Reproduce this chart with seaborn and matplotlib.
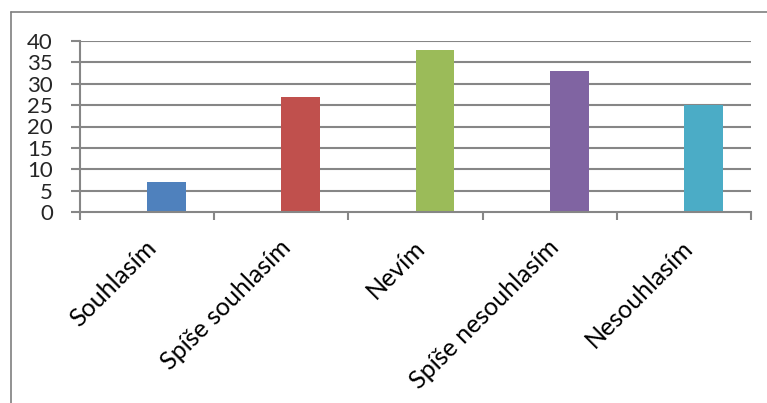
import matplotlib
matplotlib.use("Agg")
import matplotlib.pyplot as plt
import seaborn as sns
import pandas as pd
from matplotlib.lines import Line2D

categories = ["Souhlasím", "Spíše souhlasím", "Nevím", "Spíše nesouhlasím", "Nesouhlasím"]
values = [7, 27, 38, 33, 25]
empty_series = [0, 0, 0, 0, 0]  # Excel cluster has an empty first slot
colors = ["#4F81BD", "#C0504D", "#9BBB59", "#8064A2", "#4BACC6"]
y_ticks = [0, 5, 10, 15, 20, 25, 30, 35, 40]

sns.set_theme(style="white")
plt.rcParams['font.family'] = ['Lato', 'DejaVu Sans']

W, H = 767, 403
fig = plt.figure(figsize=(W / 100, H / 100), dpi=100)
ax = fig.add_axes([80 / W, 1 - 212 / H, (751 - 80) / W, (212 - 41) / H])

df = pd.DataFrame({
    "cat": categories * 2,
    "val": empty_series + values,
    "series": ["a"] * len(categories) + ["b"] * len(categories),
})
sns.barplot(data=df, x="cat", y="val", hue="series", hue_order=["a", "b"],
            palette=["white", "white"], width=0.58, dodge=True,
            legend=False, ax=ax, saturation=1, linewidth=0)
for patch, c in zip(ax.containers[1].patches, colors):
    patch.set_facecolor(c)
for patch in ax.containers[0].patches:
    patch.set_visible(False)

grid_c = "#868686"
ax.set_ylim(0, 40)
ax.set_xlim(-0.5, 4.5)
ax.set_yticks(y_ticks)
ax.set_yticklabels([str(v) for v in y_ticks], fontsize=16)
for v in y_ticks[1:]:
    ax.axhline(v, color=grid_c, lw=1.5, zorder=0)
ax.set_axisbelow(True)

ax.set_xticks([i - 0.5 for i in range(len(categories) + 1)])
ax.set_xticklabels([])
for i, c in enumerate(categories):
    ax.annotate(c, xy=(i, 0), xycoords="data", xytext=(-2, -17),
                textcoords="offset points", rotation=45, ha="right", va="top",
                rotation_mode="anchor", fontsize=18, color="black")

for s in ["top", "right"]:
    ax.spines[s].set_visible(False)
for s in ["left", "bottom"]:
    ax.spines[s].set_color(grid_c)
    ax.spines[s].set_linewidth(1.5)
ax.tick_params(axis="y", direction="out", length=6.5, width=1.5, color=grid_c, pad=13, left=True)
ax.tick_params(axis="x", direction="out", length=6, width=1.5, color=grid_c, bottom=True)
ax.set_xlabel("")
ax.set_ylabel("")

# outer chart frame (partly cropped)
fig.add_artist(Line2D([11 / W, 11 / W], [0, 1 - 12 / H], color="#7f7f7f", lw=1.2, transform=fig.transFigure))
fig.add_artist(Line2D([11 / W, 1], [1 - 12 / H, 1 - 12 / H], color="#7f7f7f", lw=1.2, transform=fig.transFigure))

fig.savefig("out.png", dpi=100)
